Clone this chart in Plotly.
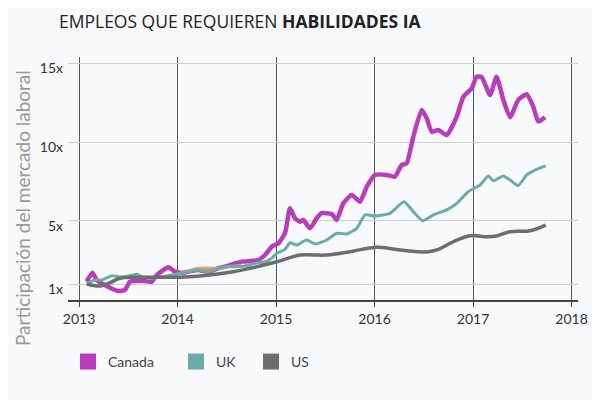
import plotly.graph_objects as go

# ---- data (decimal years, multiple of baseline) ----
canada_t = [2013.078, 2013.135, 2013.18, 2013.294, 2013.399, 2013.467, 2013.518, 2013.637, 2013.738,
            2013.789, 2013.907, 2013.975, 2014.043, 2014.11, 2014.211, 2014.313, 2014.414, 2014.482,
            2014.584, 2014.652, 2014.82, 2014.888, 2014.956, 2015.023, 2015.091, 2015.142, 2015.193,
            2015.244, 2015.277, 2015.345, 2015.413, 2015.464, 2015.566, 2015.616, 2015.683, 2015.769,
            2015.853, 2015.921, 2016.005, 2016.124, 2016.208, 2016.276, 2016.327, 2016.394, 2016.479,
            2016.53, 2016.581, 2016.648, 2016.733, 2016.835, 2016.902, 2016.987, 2017.037, 2017.088,
            2017.173, 2017.239, 2017.308, 2017.376, 2017.46, 2017.545, 2017.612, 2017.663, 2017.731]
canada_v = [1.15, 1.72, 1.25, 0.83, 0.56, 0.62, 1.15, 1.21, 1.15,
            1.57, 2.06, 1.78, 1.70, 1.78, 1.89, 1.78, 2.00, 2.10,
            2.31, 2.42, 2.52, 2.84, 3.37, 3.58, 4.22, 5.80, 5.17,
            4.95, 5.06, 4.53, 5.17, 5.49, 5.44, 5.06, 6.12, 6.65,
            6.22, 7.17, 7.92, 7.92, 7.81, 8.55, 8.66, 10.35, 12.04,
            11.51, 10.66, 10.77, 10.45, 11.62, 12.88, 13.42, 14.15, 14.13,
            12.99, 14.15, 12.68, 11.58, 12.68, 13.04, 12.25, 11.30, 11.58]

uk_t = [2013.078, 2013.162, 2013.23, 2013.332, 2013.399, 2013.467, 2013.586, 2013.637, 2013.738,
        2013.84, 2014.043, 2014.11, 2014.211, 2014.313, 2014.414, 2014.482, 2014.584, 2014.685,
        2014.787, 2014.888, 2014.956, 2015.007, 2015.091, 2015.142, 2015.21, 2015.311, 2015.396,
        2015.515, 2015.616, 2015.718, 2015.819, 2015.904, 2016.005, 2016.157, 2016.299, 2016.394,
        2016.489, 2016.597, 2016.733, 2016.835, 2016.952, 2017.071, 2017.155, 2017.206, 2017.308,
        2017.376, 2017.46, 2017.545, 2017.63, 2017.738]
uk_v = [1.04, 1.25, 1.25, 1.53, 1.46, 1.46, 1.62, 1.46, 1.36,
        1.46, 1.68, 1.78, 1.89, 1.78, 2.00, 2.10, 2.10, 2.14,
        2.31, 2.41, 2.63, 2.95, 3.20, 3.62, 3.47, 3.79, 3.54,
        3.79, 4.22, 4.17, 4.53, 5.38, 5.31, 5.48, 6.22, 5.59,
        5.00, 5.38, 5.70, 6.12, 6.86, 7.28, 7.85, 7.55, 7.85,
        7.60, 7.24, 7.92, 8.23, 8.49]

us_t = [2013.078, 2013.213, 2013.315, 2013.416, 2013.619, 2014.008, 2014.228, 2014.566, 2014.838,
        2015.007, 2015.244, 2015.379, 2015.515, 2015.751, 2016.022, 2016.259, 2016.53, 2016.632,
        2016.8, 2016.97, 2017.139, 2017.24, 2017.376, 2017.579, 2017.738]
us_v = [1.00, 0.87, 1.08, 1.36, 1.43, 1.43, 1.51, 1.78, 2.14,
        2.41, 2.84, 2.84, 2.84, 3.05, 3.33, 3.16, 3.03, 3.16,
        3.68, 4.06, 4.00, 4.05, 4.32, 4.38, 4.74]

other_t = [2013.98, 2014.1, 2014.2, 2014.3, 2014.42, 2014.55, 2014.65]
other_v = [1.62, 1.80, 1.98, 2.02, 1.98, 2.12, 2.18]

year_ticks = [2013, 2014, 2015, 2016, 2017, 2018]
year_labels = ["2013", "2014", "2015", "2016", "2017", "2018"]
y_ticks = [1, 5, 10, 15]
y_labels = ["1x", "5x", "10x", "15x"]

series_names = ["Canada", "UK", "US"]
series_colors = ["#b93cbc", "#6aabab", "#6d6d70"]
legend_ids = ["legend", "legend2", "legend3"]
legend_x = [0.0, 0.2118, 0.3588]

fig = go.Figure()

fig.add_trace(go.Scatter(x=canada_t, y=canada_v, mode="lines", showlegend=False,
                         line=dict(color=series_colors[0], width=4.5, shape="spline", smoothing=0.5),
                         hoverinfo="skip"))
fig.add_trace(go.Scatter(x=other_t, y=other_v, mode="lines", showlegend=False,
                         line=dict(color="#e89a5a", width=3, shape="spline"), hoverinfo="skip"))
fig.add_trace(go.Scatter(x=uk_t, y=uk_v, mode="lines", showlegend=False,
                         line=dict(color=series_colors[1], width=3, shape="spline", smoothing=0.5),
                         hoverinfo="skip"))
fig.add_trace(go.Scatter(x=us_t, y=us_v, mode="lines", showlegend=False,
                         line=dict(color=series_colors[2], width=3.5, shape="spline"), hoverinfo="skip"))

for name, col, lg in zip(series_names, series_colors, legend_ids):
    fig.add_trace(go.Scatter(x=[None], y=[None], mode="markers", name=name, legend=lg,
                             marker=dict(symbol="square", size=16, color=col)))

legend_style = dict(orientation="h", xanchor="left", y=-0.255, yanchor="middle",
                    font=dict(family="Lato, sans-serif", size=14, color="#444"),
                    bgcolor="rgba(0,0,0,0)")

# page body adds an 8px offset; margins compensate
fig.update_layout(
    width=600, height=400,
    paper_bgcolor="#f8f9fb", plot_bgcolor="#f8f9fb",
    margin=dict(l=60, r=30, t=49, b=108, autoexpand=False),
    font=dict(family="Lato, Open Sans, sans-serif", size=14, color="#333"),
    title=dict(text="EMPLEOS QUE REQUIEREN <b>HABILIDADES IA</b>",
               font=dict(family="Open Sans, sans-serif", size=17.5, color="#222"),
               xref="container", x=51/600, xanchor="left",
               yref="container", y=1-14/400, yanchor="middle"),
    showlegend=True,
    legend=dict(x=legend_x[0], **legend_style),
    legend2=dict(x=legend_x[1], **legend_style),
    legend3=dict(x=legend_x[2], **legend_style),
    xaxis=dict(range=[2012.888, 2018.066], tickvals=year_ticks, ticktext=year_labels,
               showgrid=True, gridcolor="#555", gridwidth=1, automargin=False,
               showline=True, linecolor="#444", linewidth=2,
               ticks="outside", ticklen=5, tickcolor="#444", zeroline=False,
               tickfont=dict(size=14, color="#333")),
    yaxis=dict(range=[-0.015, 15.4], tickvals=y_ticks, ticktext=y_labels,
               showgrid=True, gridcolor="#cfcfcf", gridwidth=1, automargin=False,
               showline=False, zeroline=False, ticks="", ticklabelshift=5,
               ticklabelstandoff=4,
               tickfont=dict(size=14, color="#333")),
    annotations=[dict(text="Participación del mercado laboral", textangle=-90,
                      xref="paper", yref="paper", x=(22-68)/510, y=(300-208)/243,
                      xanchor="center", yanchor="middle", showarrow=False,
                      font=dict(family="Lato, sans-serif", size=19, color="#999"))],
)

fig.write_html("out.html")
